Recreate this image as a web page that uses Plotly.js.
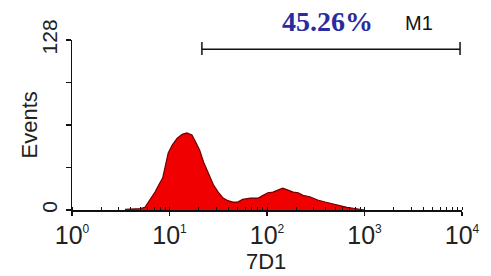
<!DOCTYPE html>
<html>
<head>
<meta charset="utf-8">
<script src="https://cdn.plot.ly/plotly-3.0.1.min.js"></script>
<style>html,body{margin:0;padding:0;background:#fff;}#chart{width:491px;height:276px;}</style>
</head>
<body>
<div id="chart"></div>
<script>
// Histogram channel (7D1 fluorescence, linear units) and event counts
const channel = [3.5, 3.94, 5.0, 5.6, 6.3, 7.1, 7.9, 8.5, 9.7, 10.7, 12.0, 13.5, 15.1, 17.0, 18.6, 20.4, 22.4, 24.3, 26.0, 28.2, 31.6, 35.5, 39.8, 44.7, 50.1, 56.2, 67.6, 81.3, 91.2, 102, 115, 129, 145, 164, 186, 209, 234, 275, 331, 394, 479, 562, 661, 741, 851, 1000];
const events  = [0.5, 0.5, 1, 2, 7.5, 13.5, 20, 24, 43, 49, 54, 57, 58, 56.5, 51, 45, 36, 30, 24, 19, 13.5, 9, 7, 6, 6, 8, 9, 9, 11, 13, 13.5, 15, 16.5, 15, 13.5, 13, 11, 10, 7.5, 6, 4.5, 3, 2, 1.5, 0.7, 0];

// Marker M1 gate
const gateRange = [21.5, 9550];
const gateLevel = 121;
const gateCap = [116.7, 126.5];
const gateLabel = "M1";
const gatePercent = "45.26%";

// Axis ticks
const xTickVals = [1, 10, 100, 1000, 10000];
const xTickText = ["10<sup><span style='font-size:12px'>0</span></sup>", "10<sup><span style='font-size:12px'>1</span></sup>", "10<sup><span style='font-size:12px'>2</span></sup>", "10<sup><span style='font-size:12px'>3</span></sup>", "10<sup><span style='font-size:12px'>4</span></sup>"];
const yTickVals = [0, 32, 64, 96, 128];
const yTickText = ["0", "", "", "", "128"];
const xTitle = "7D1";
const yTitle = "Events";

const font = "Liberation Sans, Arial, sans-serif";

const traces = [
  {
    x: channel, y: events, type: "scatter", mode: "lines",
    line: {color: "rgb(110,0,0)", width: 1.2, shape: "linear"},
    fill: "tozeroy", fillcolor: "rgb(240,0,0)",
    hoverinfo: "skip"
  },
  {
    x: [gateRange[0], gateRange[0], null, gateRange[0], gateRange[1], null, gateRange[1], gateRange[1]],
    y: [gateCap[0], gateCap[1], null, gateLevel, gateLevel, null, gateCap[0], gateCap[1]],
    type: "scatter", mode: "lines", line: {color: "#111", width: 1.5},
    cliponaxis: false, hoverinfo: "skip"
  }
];

const layout = {
  width: 491, height: 276,
  margin: {l: 72, r: 29, t: 40, b: 66},
  paper_bgcolor: "#fff", plot_bgcolor: "#fff",
  showlegend: false,
  font: {family: font, color: "#222"},
  xaxis: {
    type: "log", range: [0, 4],
    tickmode: "array", tickvals: xTickVals, ticktext: xTickText,
    ticks: "outside", ticklen: 4, tickwidth: 1.5, tickcolor: "#111",
    ticklabelstandoff: -2,
    minor: {dtick: "D1", ticks: "inside", ticklen: 3, tickwidth: 1, tickcolor: "#111"},
    showline: true, linecolor: "#111", linewidth: 1.5,
    showgrid: false, zeroline: false,
    tickfont: {size: 25, family: font, color: "#222"}
  },
  yaxis: {
    range: [0, 128],
    tickmode: "array", tickvals: yTickVals, ticktext: yTickText,
    tickangle: -90,
    ticks: "outside", ticklen: 5, tickwidth: 1.5, tickcolor: "#111",
    showline: true, linecolor: "#111", linewidth: 1.5,
    showgrid: false, zeroline: false,
    tickfont: {size: 21, family: font, color: "#222"}
  },
  annotations: [
    {text: yTitle, xref: "paper", yref: "paper", x: -0.109, y: 0.5, textangle: -90,
     showarrow: false, font: {size: 22, family: font, color: "#222"}, xanchor: "center", yanchor: "middle"},
    {text: xTitle, xref: "paper", yref: "paper", x: 0.497, y: -0.305,
     showarrow: false, font: {size: 22, family: font, color: "#222"}, xanchor: "center", yanchor: "middle"},
    {text: "<b>" + gatePercent + "</b>", xref: "paper", yref: "paper", x: 0.656, y: 1.106,
     showarrow: false, font: {size: 28, family: "Liberation Serif, Times New Roman, serif", color: "#2b2ba0"}, xanchor: "center", yanchor: "middle"},
    {text: gateLabel, xref: "paper", yref: "paper", x: 0.89, y: 1.10,
     showarrow: false, font: {size: 20, family: font, color: "#111"}, xanchor: "center", yanchor: "middle"}
  ]
};

Plotly.newPlot("chart", traces, layout, {staticPlot: true, displayModeBar: false});
</script>
</body>
</html>
